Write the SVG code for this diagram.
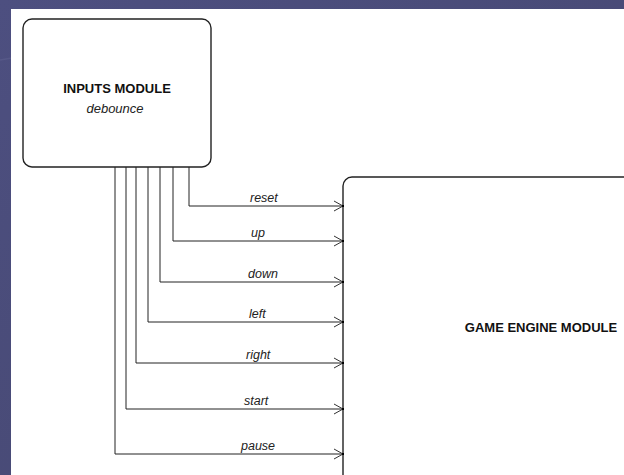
<svg xmlns="http://www.w3.org/2000/svg" width="624" height="475" viewBox="0 0 624 475">
  <defs>
    <linearGradient id="bg" x1="0" y1="0" x2="1" y2="1">
      <stop offset="0" stop-color="#4d4f80"/>
      <stop offset="1" stop-color="#45476f"/>
    </linearGradient>
    <marker id="arr" markerUnits="userSpaceOnUse" markerWidth="14" markerHeight="14" refX="11" refY="6" orient="auto" overflow="visible">
      <path d="M2,1 L11,6 L2,11" fill="none" stroke="#333" stroke-width="1"/>
      <rect x="10" y="5" width="2" height="2" fill="#000"/>
    </marker>
  </defs>
  <style>
    .box { fill: #fff; stroke: #222; stroke-width: 1.4; }
    .wire { fill: none; stroke: #222; stroke-width: 1; }
    .title { font-family: "Liberation Sans", Arial, sans-serif; font-weight: bold; font-size: 13px; fill: #111; }
    .sub { font-family: "Liberation Sans", Arial, sans-serif; font-style: italic; font-size: 13px; fill: #222; }
    .lbl { font-family: "Liberation Sans", Arial, sans-serif; font-style: italic; font-size: 12.5px; fill: #222; }
  </style>
  <rect x="0" y="0" width="624" height="475" fill="url(#bg)"/>
  <path d="M0,60 C120,40 200,30 320,12" fill="none" stroke="#6a6d9a" stroke-width="1.5" opacity="0.35"/>
  <rect x="11" y="9" width="613" height="466" fill="#fff"/>

  <g id="inputs-module">
    <rect class="box" x="23" y="19" width="188" height="148" rx="9" ry="9"/>
    <text class="title" x="117" y="93" text-anchor="middle">INPUTS MODULE</text>
    <text class="sub" x="115" y="113" text-anchor="middle">debounce</text>
  </g>

  <g id="game-engine-module">
    <rect class="box" x="343" y="177" width="320" height="340" rx="9" ry="9"/>
    <text class="title" x="541" y="332" text-anchor="middle">GAME ENGINE MODULE</text>
  </g>

  <g id="connectors">
    <path class="wire" d="M189,167 V206 H343" marker-end="url(#arr)"/>
    <path class="wire" d="M173,167 V241 H343" marker-end="url(#arr)"/>
    <path class="wire" d="M160,167 V282 H343" marker-end="url(#arr)"/>
    <path class="wire" d="M148,167 V322 H343" marker-end="url(#arr)"/>
    <path class="wire" d="M136,167 V363 H343" marker-end="url(#arr)"/>
    <path class="wire" d="M126,167 V409 H343" marker-end="url(#arr)"/>
    <path class="wire" d="M115,167 V454 H343" marker-end="url(#arr)"/>
    <text class="lbl" x="250" y="202">reset</text>
    <text class="lbl" x="251" y="237">up</text>
    <text class="lbl" x="248" y="278">down</text>
    <text class="lbl" x="249" y="318">left</text>
    <text class="lbl" x="246" y="359">right</text>
    <text class="lbl" x="244" y="405">start</text>
    <text class="lbl" x="241" y="450">pause</text>
  </g>
</svg>
